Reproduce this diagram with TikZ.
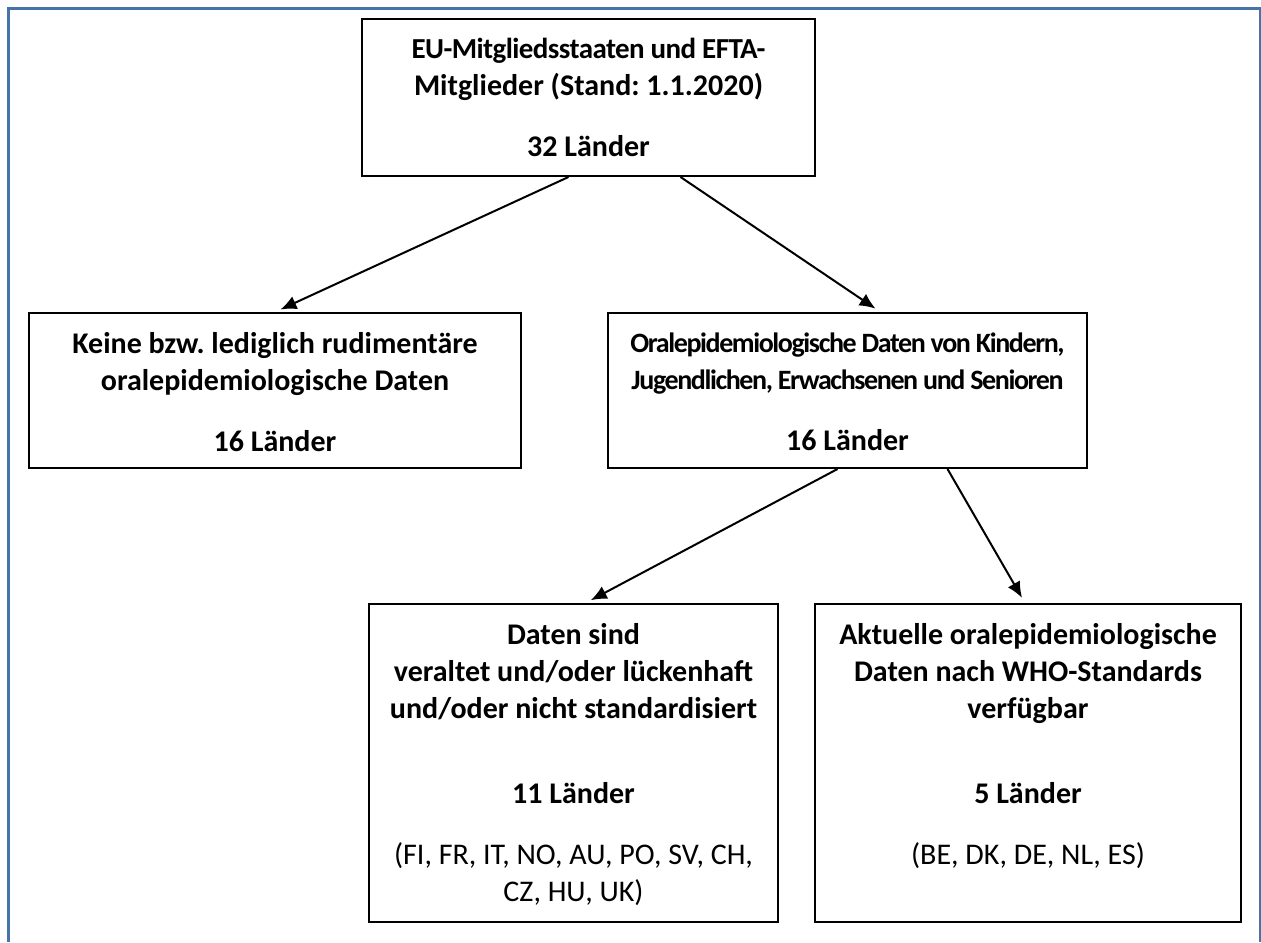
\documentclass[tikz,border=0pt]{standalone}
\usepackage{fontspec}
\setmainfont{Carlito}
\frenchspacing
\definecolor{rahmenblau}{RGB}{70, 116, 168}
\usepackage{tikz}
\usetikzlibrary{arrows.meta, calc}

\begin{document}
\begin{tikzpicture}[x=0.5pt, y=-0.5pt,
    box/.style={draw, line width=1pt, inner sep=0pt},
    txt/.style={font=\fontsize{15}{18.5}\selectfont\bfseries, align=center, inner sep=0pt, anchor=north},
    pfeil/.style={-{Latex[length=8pt, width=7pt]}, line width=1pt, shorten >=3pt}]
  \useasboundingbox (0,0) rectangle (1261,942);

  % Rahmen
  \draw[rahmenblau, line width=1.1pt] (8.5,942) -- (8.5,8.5) -- (1260,8.5) -- (1260,942);

  % Kaesten
  \node[box, minimum width=453*0.5pt, minimum height=157*0.5pt] (eu) at (588.5,97.5) {};
  \node[box, minimum width=492*0.5pt, minimum height=155*0.5pt] (keine) at (275,390.5) {};
  \node[box, minimum width=479*0.5pt, minimum height=155*0.5pt] (oral) at (847.5,390.5) {};
  \node[box, minimum width=409*0.5pt, minimum height=318*0.5pt] (veraltet) at (573.5,763) {};
  \node[box, minimum width=426*0.5pt, minimum height=318*0.5pt] (aktuell) at (1028,763) {};

  % Texte
  \node[txt] (eutxt) at ($(eu.north)+(0,20)$) {
    {\fontsize{14.5}{18.5}\selectfont\addfontfeature{LetterSpace=-2}EU-Mitgliedsstaaten und EFTA-}\\
    Mitglieder (Stand: 1.1.2020)\\[12pt]
    32 Länder};
  \node[txt] (keinetxt) at ($(keine.north)+(0,20)$) {
    Keine bzw. lediglich rudimentäre\\
    oralepidemiologische Daten\\[12pt]
    16 Länder};
  \node[txt] (oraltxt) at ($(oral.north)+(0,20)$) {
    {\fontsize{14}{18.5}\selectfont\addfontfeature{LetterSpace=-5}Oralepidemiologische Daten von Kindern,}\\
    {\fontsize{14}{18.5}\selectfont\addfontfeature{LetterSpace=-5}Jugendlichen, Erwachsenen und Senioren}\\[12pt]
    16 Länder};
  \node[txt] (veraltettxt) at ($(veraltet.north)+(0,20)$) {
    Daten sind\\
    veraltet und/oder lückenhaft\\
    und/oder nicht standardisiert\\[24pt]
    11 Länder\\[12pt]
    \mdseries (FI, FR, IT, NO, AU, PO, SV, CH,\\
    \mdseries CZ, HU, UK)};
  \node[txt] (aktuelltxt) at ($(aktuell.north)+(0,20)$) {
    Aktuelle oralepidemiologische\\
    Daten nach WHO-Standards\\
    verfügbar\\[24pt]
    5 Länder\\[12pt]
    \mdseries (BE, DK, DE, NL, ES)};

  % Pfeile
  \draw[pfeil] ($(eu.south)+(-20,0)$) -- (keine.north);
  \draw[pfeil] ($(eu.south)+(92,0)$) -- ($(oral.north)+(33,0)$);
  \draw[pfeil] ($(oral.south)+(-10,0)$) -- ($(veraltet.north)+(12,0)$);
  \draw[pfeil] ($(oral.south)+(100,0)$) -- ($(aktuell.north)+(-3,0)$);
\end{tikzpicture}
\end{document}
